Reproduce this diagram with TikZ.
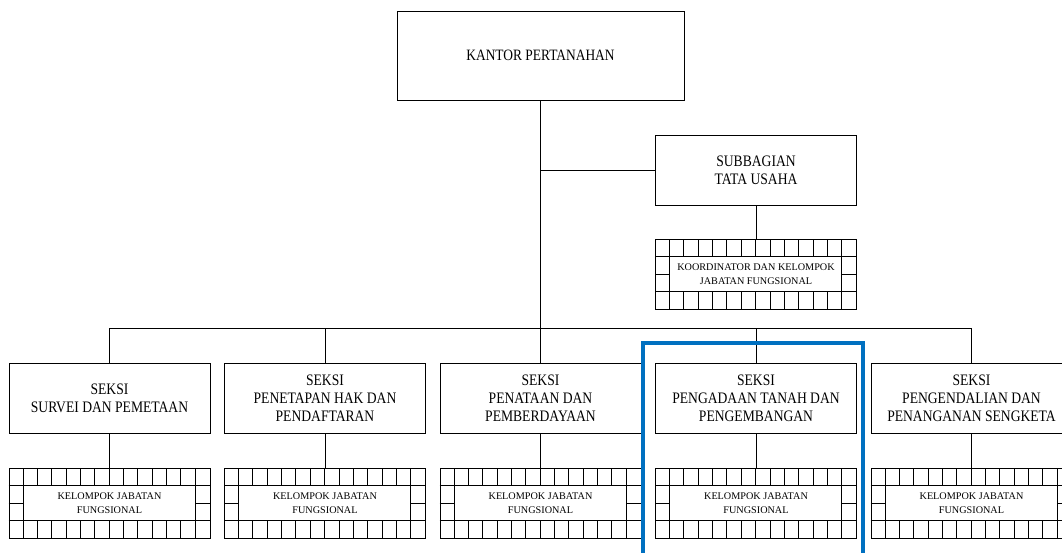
\documentclass[tikz,border=0pt]{standalone}
\usepackage{fontspec}
\usetikzlibrary{calc}
\setmainfont{Liberation Serif}
\newfontfamily\condfont[FakeStretch=0.85]{Liberation Serif}
\definecolor{hiblue}{RGB}{0,112,192}
\newcommand\gridcells[1]{%
\begin{scope}[shift={(#1.north west)}]
 \draw[gridline] (0,17.5) -- (201,17.5) (0,52.5) -- (201,52.5)
   (0,35) -- (14.357,35) (186.64,35) -- (201,35)
   (14.357,17.5) -- (14.357,52.5) (186.64,17.5) -- (186.64,52.5);
 \foreach \i in {1,...,13} {\draw[gridline] (\i*14.357,0) -- (\i*14.357,17.5) (\i*14.357,52.5) -- (\i*14.357,70);}
\end{scope}}
\begin{document}
\begin{tikzpicture}[x=1pt,y=-1pt,
  box/.style={draw=black,line width=0.9pt,inner sep=0pt,minimum width=201pt,minimum height=70pt,align=center,font=\condfont\fontsize{16}{18}\selectfont},
  gbox/.style={box,font=\fontsize{10.2}{14}\selectfont},
  gridline/.style={draw=black,line width=0.8pt},
  conn/.style={draw=black,line width=0.9pt}]
\useasboundingbox (0,0) rectangle (1062,552);
\clip (0,0) rectangle (1062,552);
\node[box,minimum width=287pt,minimum height=89pt,font=\condfont\fontsize{15.8}{18}\selectfont] (kantor) at (540.5,55.5) {KANTOR PERTANAHAN};
\node[box] (sub) at (756,170) {SUBBAGIAN\\TATA USAHA};
\node[gbox] (koor) at (756,274.5) {KOORDINATOR DAN KELOMPOK\\JABATAN FUNGSIONAL};
\node[box] (s1) at (109.5,398.5) {SEKSI\\SURVEI DAN PEMETAAN};
\node[box] (s2) at (325,398.5) {SEKSI\\PENETAPAN HAK DAN\\PENDAFTARAN};
\node[box] (s3) at (540.5,398.5) {SEKSI\\PENATAAN DAN\\PEMBERDAYAAN};
\node[box] (s4) at (756,398.5) {SEKSI\\PENGADAAN TANAH DAN\\PENGEMBANGAN};
\node[box] (s5) at (971.5,398.5) {SEKSI\\PENGENDALIAN DAN\\PENANGANAN SENGKETA};
\foreach \i in {1,...,5} {
  \node[gbox] (k\i) at ($(s\i)+(0,105)$) {KELOMPOK JABATAN\\FUNGSIONAL};
}
\gridcells{koor}
\foreach \i in {1,...,5} {\gridcells{k\i}}
\coordinate (bus) at (540.5,328);
\coordinate (bsub) at (540.5,170);
\draw[conn] (kantor.south) -- (bus);
\draw[conn] (bsub) -- (sub.west);
\draw[conn] (s1.north |- bus) -- (s5.north |- bus);
\draw[conn] (sub.south) -- (koor.north);
\foreach \i in {1,...,5} {
  \draw[conn] (s\i.north |- bus) -- (s\i.north);
  \draw[conn] (s\i.south) -- (k\i.north);
}
\draw[hiblue,line width=3.5pt] (643,600) -- (643,343) -- (863,343) -- (863,600);
\end{tikzpicture}
\end{document}
